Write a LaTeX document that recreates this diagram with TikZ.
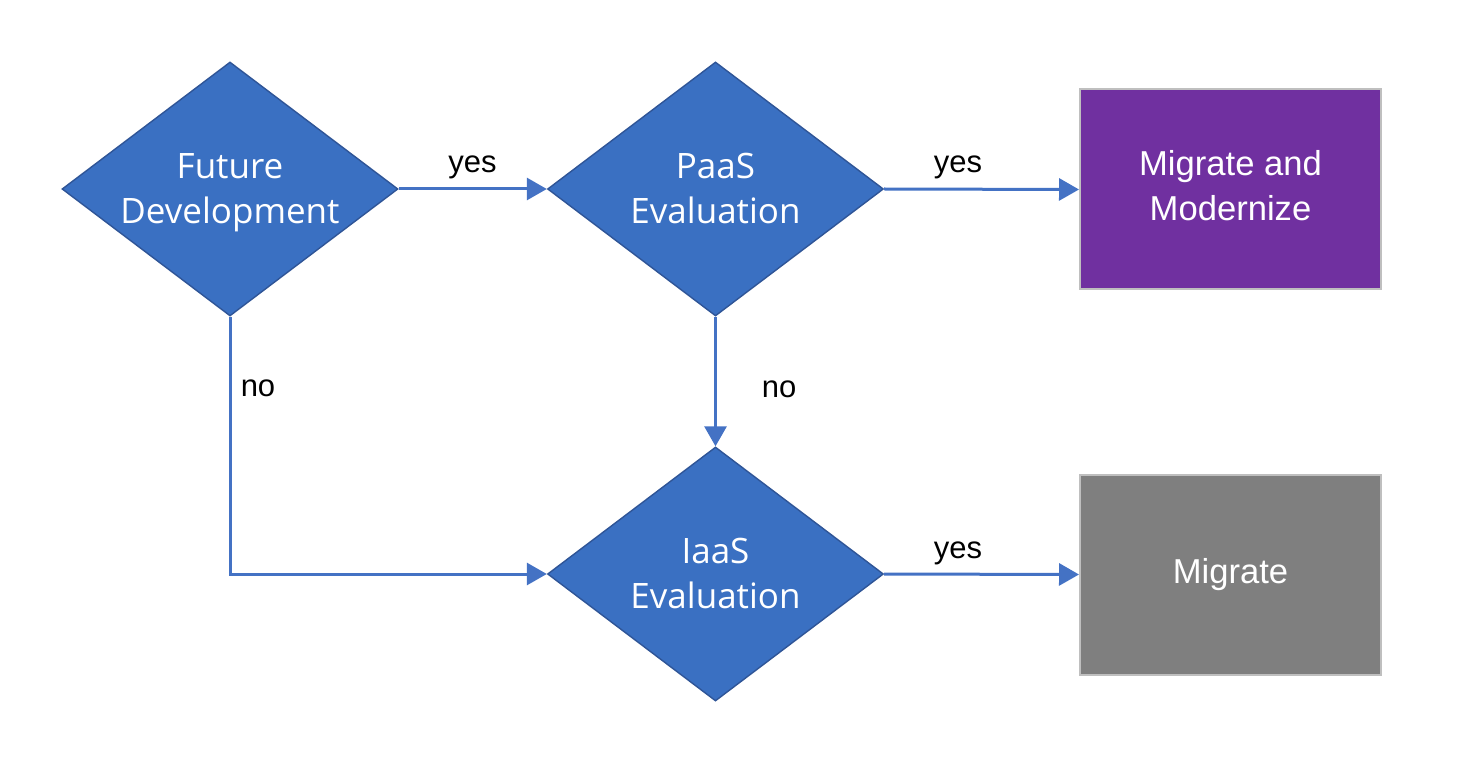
\documentclass[tikz,border=0pt]{standalone}
\usepackage{fontspec}
\setmainfont{Liberation Sans}
\newfontfamily\segoe{Open Sans}
\usetikzlibrary{shapes.geometric,arrows.meta}
\definecolor{dfill}{HTML}{3A70C2}
\definecolor{dborder}{HTML}{2F5597}
\definecolor{conncol}{HTML}{4472C4}
\definecolor{purplebox}{HTML}{7030A0}
\definecolor{graybox}{HTML}{7F7F7F}
\definecolor{boxborder}{HTML}{BFBFBF}
\tikzset{
  decision/.style={diamond, fill=dfill, draw=dborder, line width=0.7pt,
    minimum width=168pt, minimum height=127pt, inner sep=0pt},
  dtext/.style={text=white, align=center, yshift=-1.5pt, font=\segoe\fontsize{17.5}{22.5}\selectfont},
  endbox/.style={rectangle, draw=boxborder, line width=1pt, text=white, align=center,
    minimum width=150.5pt, minimum height=100pt, inner sep=0pt,
    font=\fontsize{17.3}{22.5}\selectfont},
  conn/.style={draw=conncol, line width=1.5pt, -{Triangle[length=10pt,width=11pt]}},
  lbl/.style={anchor=base, text=black, font=\fontsize{15.5}{18}\selectfont, inner sep=0pt}
}
\begin{document}
\begin{tikzpicture}[x=0.5pt,y=-0.5pt]
\useasboundingbox (0,0) rectangle (1459,764);
\node[decision, label={[dtext]center:Future\strut\\Development\strut}] (fd) at (230,189) {};
\node[decision, label={[dtext]center:PaaS\strut\\Evaluation\strut}] (paas) at (715.5,189) {};
\node[decision, label={[dtext]center:IaaS\strut\\Evaluation\strut}] (iaas) at (715.5,574) {};
\node[endbox, fill=purplebox] (mm) at (1230.5,189.5) {Migrate and\strut\\Modernize\strut};
\node[endbox, fill=graybox] (mig) at (1230.5,574.5) {Migrate\strut};
\draw[conn] (fd.east) -- (paas.west);
\draw[conn] (paas.east) -- (mm.west);
\draw[conn] (paas.south) -- (iaas.north);
\draw[conn] (fd.south) |- (iaas.west);
\draw[conn] (iaas.east) -- (mig.west);
\node[lbl] (l1) at (472.5,173) {yes};
\node[lbl] (l2) at (958,173) {yes};
\node[lbl] (l3) at (958,558) {yes};
\node[lbl] (l4) at (779,397) {no};
\node[lbl] (l5) at (258,396) {no};
\end{tikzpicture}
\end{document}
